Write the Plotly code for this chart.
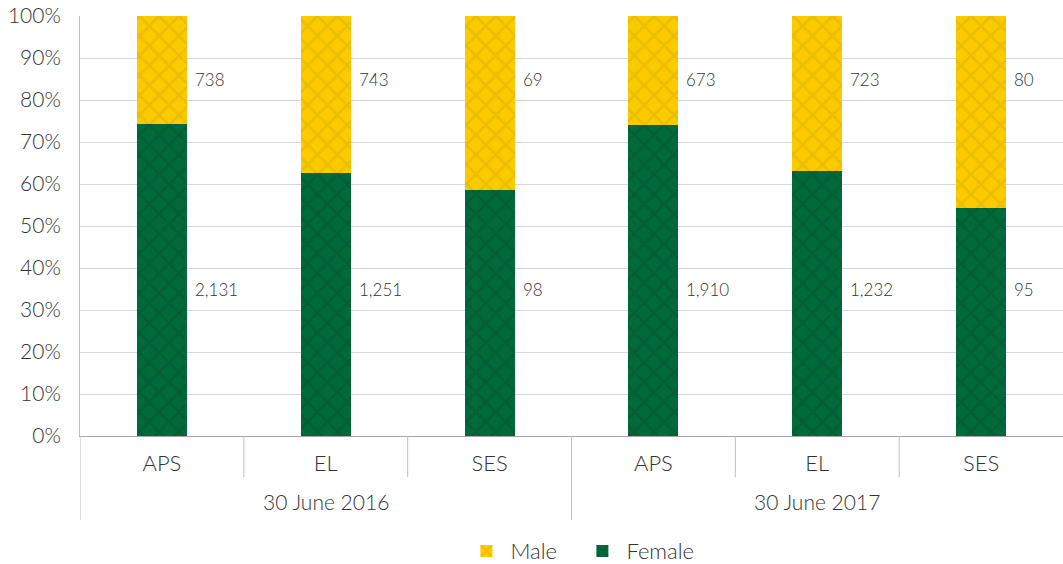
import plotly.graph_objects as go

# Headcount by gender, classification and date
groups = ["30 June 2016", "30 June 2017"]
levels = ["APS", "EL", "SES"]
female = [2131, 1251, 98, 1910, 1232, 95]
male = [738, 743, 69, 673, 723, 80]
y_ticks = [0, 10, 20, 30, 40, 50, 60, 70, 80, 90, 100]
y_tick_labels = [f"{v}%" for v in y_ticks]

FONT = "Source Sans Pro, Lato, Open Sans, sans-serif"
W = 300
TXT = "#333333"
GREEN, GREEN_DK = "#006A3B", "#00552F"
YELLOW, YELLOW_DK = "#FBCB00", "#DDB200"

xpos = list(range(len(groups) * len(levels)))
tick_text = [l for g in groups for l in levels]
BAR_W = 0.305

fig = go.Figure()
fig.add_trace(go.Bar(
    name="Female", x=xpos, y=female, width=BAR_W,
    marker=dict(color=GREEN, line=dict(width=0),
                pattern=dict(shape="x", fgcolor=GREEN_DK, bgcolor=GREEN,
                             size=14, solidity=0.35)),
    hoverinfo="skip"))
fig.add_trace(go.Bar(
    name="Male", x=xpos, y=male, width=BAR_W,
    marker=dict(color=YELLOW, line=dict(width=0),
                pattern=dict(shape="x", fgcolor=YELLOW_DK, bgcolor=YELLOW,
                             size=14, solidity=0.35)),
    hoverinfo="skip"))

# value labels beside each bar
for i in xpos:
    for val, yy in ((male[i], 84.8), (female[i], 34.8)):
        fig.add_annotation(x=i + BAR_W / 2, y=yy, xref="x", yref="y",
                           text=f"{val:,}", showarrow=False, xanchor="left",
                           xshift=6,
                           font=dict(family=FONT, size=17, color=TXT, weight=W))

# group labels under the category labels
for gi, g in enumerate(groups):
    fig.add_annotation(x=gi * 3 + 1, y=-0.157, xref="x", yref="paper",
                       text=g, showarrow=False, yanchor="middle",
                       font=dict(family=FONT, size=21, color=TXT, weight=W))

# separators in the category axis area
sep_color = "#BFBFBF"
for b in [-0.5, 0.5, 1.5, 2.5, 3.5, 4.5]:
    long = b in (-0.5, 2.5)
    fig.add_shape(type="line", xref="x", yref="paper", x0=b, x1=b,
                  y0=0, y1=-0.2 if long else -0.098,
                  line=dict(color=sep_color, width=1))

fig.update_layout(
    barmode="stack", barnorm="percent",
    width=1063, height=564,
    margin=dict(l=80, r=0, t=16, b=128, autoexpand=False),
    plot_bgcolor="white", paper_bgcolor="white",
    font=dict(family=FONT, color=TXT, weight=W),
    legend=dict(orientation="h", x=0.389, xanchor="left", y=-0.274,
                yanchor="middle", traceorder="reversed",
                font=dict(family=FONT, size=22, color=TXT, weight=W),
                itemwidth=38, entrywidth=63, entrywidthmode="pixels"),
    xaxis=dict(range=[-0.5, 5.5], tickvals=xpos, ticktext=tick_text,
               ticks="", showgrid=False, zeroline=False, automargin=False,
               showline=True, linecolor="#A6A6A6", linewidth=1,
               tickfont=dict(family=FONT, size=22, color=TXT, weight=W),
               ticklabelstandoff=8),
    yaxis=dict(range=[0, 100], tickvals=y_ticks, ticktext=y_tick_labels,
               showgrid=True, gridcolor="#D9D9D9", gridwidth=1,
               zeroline=False, showline=True, linecolor="#BFBFBF",
               automargin=False, ticks="",
               tickfont=dict(family=FONT, size=21, color=TXT, weight=W),
               ticklabelstandoff=14),
)

fig.write_html("out.html")
